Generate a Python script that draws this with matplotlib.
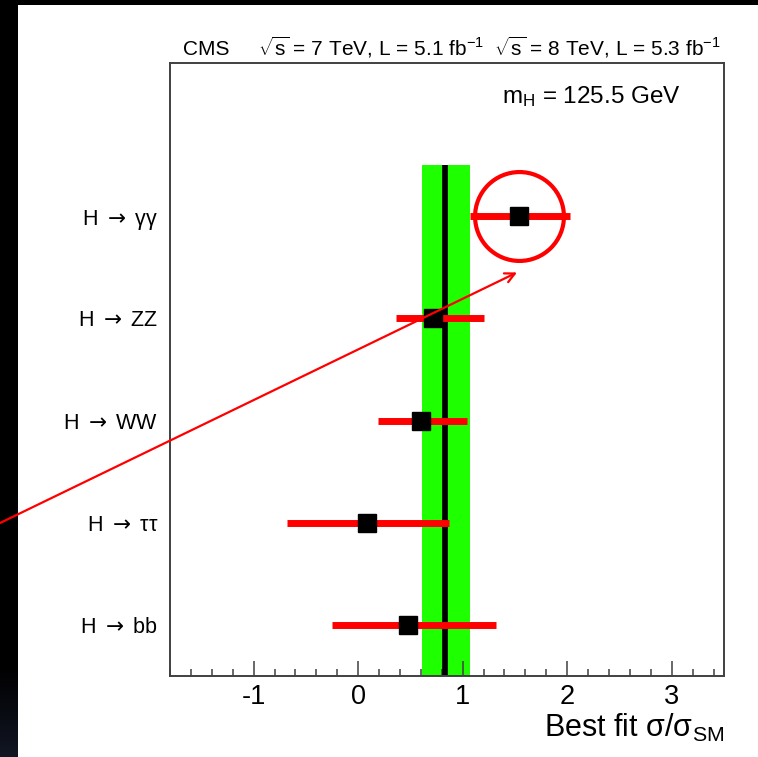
import numpy as np
import matplotlib.pyplot as plt
from matplotlib.patches import Rectangle

plt.rcParams['font.family'] = ['Liberation Sans', 'DejaVu Sans']
plt.rcParams['mathtext.fontset'] = 'custom'
plt.rcParams['mathtext.rm'] = 'Liberation Sans'
plt.rcParams['mathtext.it'] = 'Liberation Sans:italic'
plt.rcParams['mathtext.sf'] = 'DejaVu Sans'
plt.rcParams['mathtext.default'] = 'regular'
plt.rcParams['axes.unicode_minus'] = False

# channels, top to bottom
canales = [r'H $\mathsf{\rightarrow}$ γγ', r'H $\mathsf{\rightarrow}$ ZZ', r'H $\mathsf{\rightarrow}$ WW',
           r'H $\mathsf{\rightarrow}$ ττ', r'H $\mathsf{\rightarrow}$ bb']
mu = [1.54, 0.72, 0.60, 0.08, 0.48]
mu_lo = [1.07, 0.36, 0.19, -0.68, -0.25]
mu_hi = [2.03, 1.20, 1.04, 0.87, 1.32]
# combined result
mu_comb = 0.83
comb_lo = 0.61
comb_hi = 1.07

fig = plt.figure(figsize=(7.58, 7.57), dpi=100, facecolor='black')

# fondo: banda negra a la izquierda con degradado abajo
fig.patches.append(Rectangle((18/758, 0), 1, 1 - 5/757, transform=fig.transFigure,
                             facecolor='white', edgecolor='none', zorder=-2))
axg = fig.add_axes([0, 0, 18/758, 1 - 5/757], zorder=-1)
grad = np.zeros((757, 1, 3))
t = np.clip((np.arange(757) - 665) / 92.0, 0, 1)
grad[:, 0, 0] = 18/255 * t
grad[:, 0, 1] = 22/255 * t
grad[:, 0, 2] = 36/255 * t
axg.imshow(grad, aspect='auto', interpolation='bilinear')
axg.axis('off')

ax = fig.add_axes([170/758, 1 - 676/757, 554/758, 613/757], zorder=1)
ax.patch.set_alpha(0)
ypos = np.arange(len(canales))[::-1]

ax.fill_betweenx([-0.5, len(canales) - 0.5], comb_lo, comb_hi, color='#1eff00', lw=0, zorder=1)
ax.vlines(mu_comb, -0.5, len(canales) - 0.5, color='black', lw=4.1, zorder=2)
ax.hlines(ypos, mu_lo, mu_hi, color='red', lw=5, zorder=3)
ax.plot(mu, ypos, 's', color='black', ms=12.3, zorder=4)

# circulo alrededor de H->gg
ax.plot(mu[0], ypos[0], 'o', ms=64, mfc='none', mec='red', mew=3, zorder=5)

ax.annotate('', xy=(1.52, 3.45), xycoords='data',
            xytext=(0, 1 - 523/757), textcoords='figure fraction',
            arrowprops=dict(arrowstyle='->,head_length=0.7,head_width=0.35',
                            color='red', lw=1.6, shrinkA=0, shrinkB=0),
            annotation_clip=False, zorder=10)

ax.set_xlim(-1.8, 3.5)
ax.set_ylim(-0.5, 5.5)
ax.set_yticks(ypos)
ax.set_yticklabels(canales, fontsize=15.5)
ax.tick_params(axis='y', length=0, pad=8.6)
ax.set_xticks([-1, 0, 1, 2, 3])
ax.set_xticks(np.arange(-1.8, 3.5, 0.2), minor=True)
ax.tick_params(axis='x', which='major', direction='in', length=10.8, width=1.1,
               color='#404040', labelsize=19.5, pad=6)
ax.tick_params(axis='x', which='minor', direction='in', length=5, width=1.1, color='#404040')
for s in ax.spines.values():
    s.set_color('#404040')
    s.set_linewidth(1.4)

fig.text(183/758, 1 - 55/757, 'CMS', fontsize=15, va='baseline', ha='left')
fig.text(258/758, 1 - 55/757,
         r'$\sqrt{s}$ = 7 TeV, L = 5.1 fb$^{-1}$  $\sqrt{s}$ = 8 TeV, L = 5.3 fb$^{-1}$',
         fontsize=15, va='baseline', ha='left')
fig.text(502/758, 1 - 103/757, r'm$_{\rm H}$ = 125.5 GeV', fontsize=17.5,
         va='baseline', ha='left')
fig.text(724/758, 1 - 737/757, r'Best fit σ/σ$_{\rm SM}$', fontsize=22,
         va='baseline', ha='right')

fig.savefig('out.png', dpi=100, facecolor='black')
